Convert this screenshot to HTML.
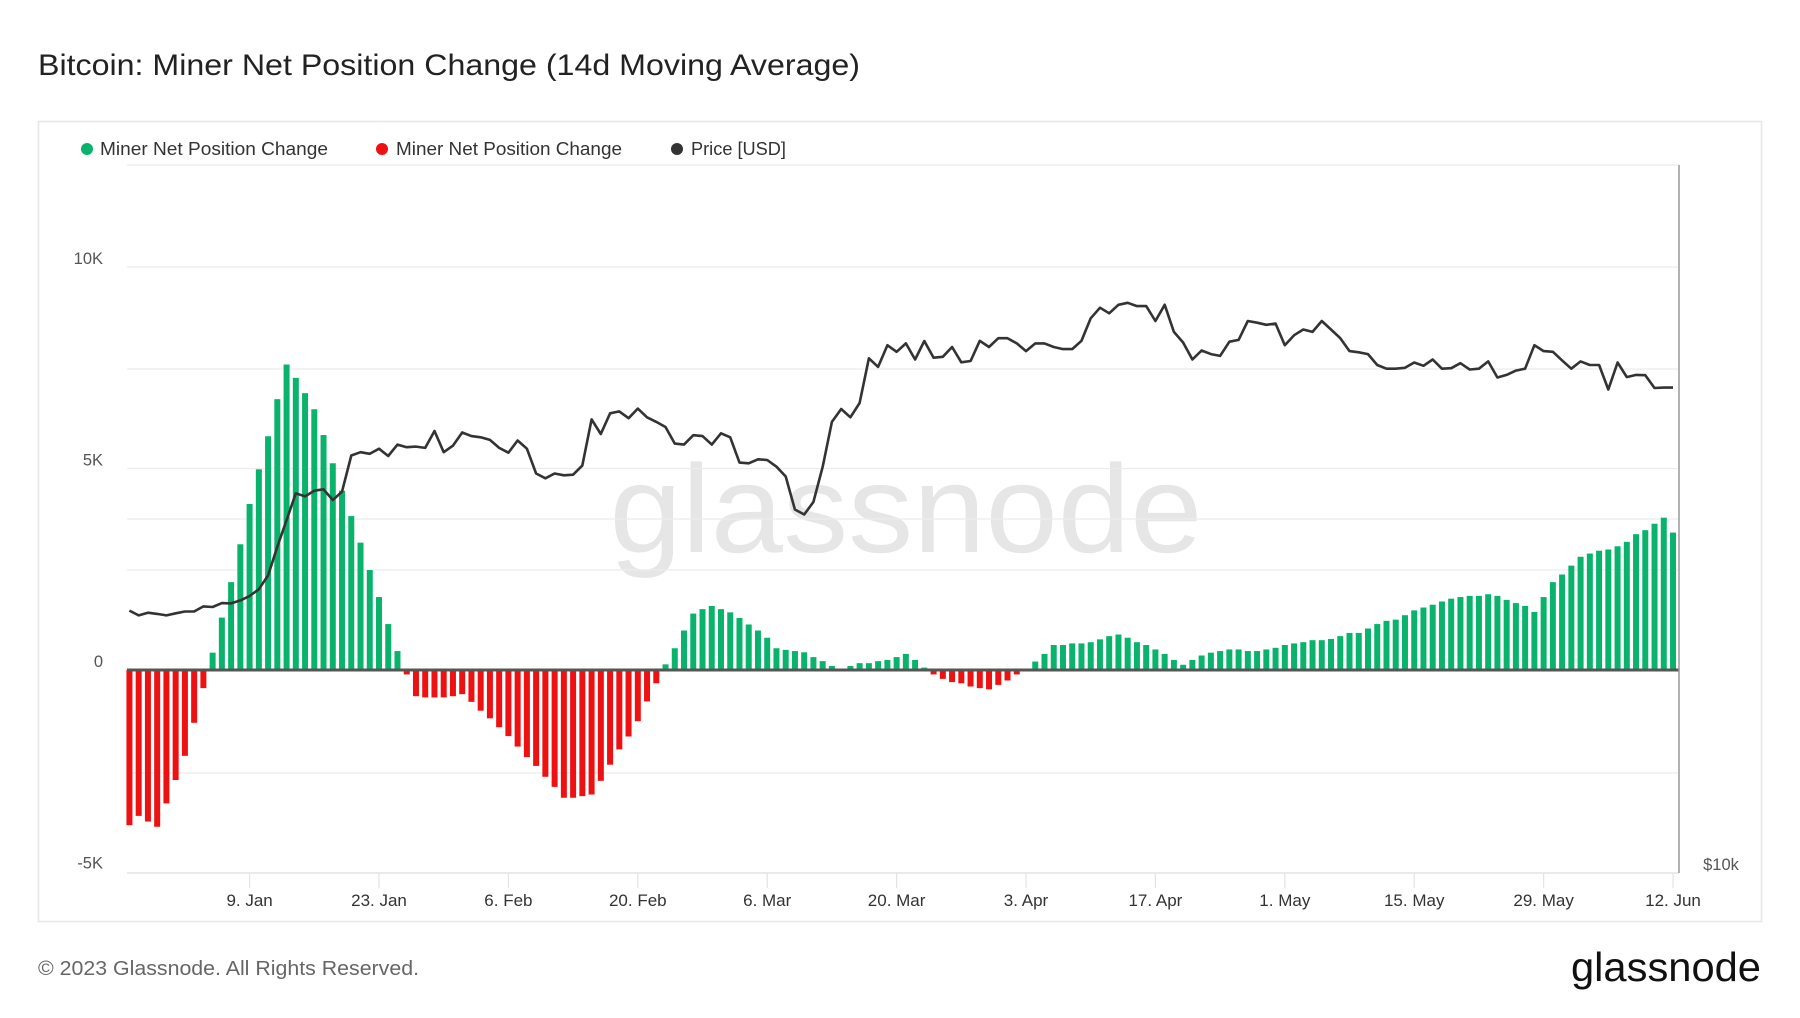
<!DOCTYPE html>
<html><head><meta charset="utf-8"><style>
html,body{margin:0;padding:0;background:#fff;}
svg text{font-family:"Liberation Sans",sans-serif;}
</style></head><body>
<svg id="chart" xmlns="http://www.w3.org/2000/svg" width="1800" height="1013" viewBox="0 0 1800 1013">
<text x="38" y="75" font-size="30" fill="#222" textLength="822" lengthAdjust="spacingAndGlyphs">Bitcoin: Miner Net Position Change (14d Moving Average)</text>
<rect x="38.5" y="121.5" width="1723" height="800" fill="#fff" stroke="#e6e6e6" stroke-width="1.5"/>
<g>
  <g><circle cx="87" cy="149" r="6" fill="#0ab36b"/><text x="100" y="155" font-size="18" fill="#333" textLength="228" lengthAdjust="spacingAndGlyphs">Miner Net Position Change</text></g>
  <g><circle cx="382" cy="149" r="6" fill="#ee1111"/><text x="396" y="155" font-size="18" fill="#333" textLength="226" lengthAdjust="spacingAndGlyphs">Miner Net Position Change</text></g>
  <g><circle cx="677" cy="149" r="6" fill="#333"/><text x="691" y="155" font-size="18" fill="#333" textLength="95" lengthAdjust="spacingAndGlyphs">Price [USD]</text></g>
</g>
<text x="906" y="552" font-size="125" fill="#e6e6e6" text-anchor="middle" textLength="593" lengthAdjust="spacingAndGlyphs">glassnode</text>
<g id="grid"></g>
<g id="bars"></g>
<g id="axes"></g>
<path id="price" fill="none" stroke="#333" stroke-width="2.6" stroke-linejoin="round"/>
<text x="38" y="975" font-size="20" fill="#666" textLength="381" lengthAdjust="spacingAndGlyphs">© 2023 Glassnode. All Rights Reserved.</text>
<text x="1761" y="981" font-size="41" fill="#111" text-anchor="end" textLength="190" lengthAdjust="spacingAndGlyphs">glassnode</text>
</svg>
<script>
const startDate = "2022-12-27";
const netChange = [
-3.85,-3.62,-3.76,-3.89,-3.31,-2.73,-2.13,-1.31,-0.45,0.43,1.30,2.18,3.12,4.12,4.98,5.80,6.72,7.58,7.25,6.87,6.47,5.83,5.13,4.45,3.82,3.16,2.48,1.81,1.14,0.47,-0.11,-0.65,-0.68,-0.68,-0.68,-0.65,
-0.60,-0.79,-1.01,-1.20,-1.42,-1.64,-1.90,-2.16,-2.38,-2.65,-2.90,-3.17,-3.17,-3.13,-3.09,-2.75,-2.35,-1.97,-1.65,-1.27,-0.78,-0.33,
0.14,0.54,0.98,1.40,1.51,1.59,1.51,1.43,1.29,1.13,0.98,0.80,0.54,
0.50,0.47,0.44,0.32,0.22,0.10,0.02,0.10,0.17,0.17,0.22,0.25,0.32,0.40,0.25,0.06,
-0.11,-0.22,-0.30,-0.33,-0.41,-0.45,-0.48,-0.37,-0.26,-0.11,-0.02,
0.21,0.40,0.62,0.62,0.66,0.66,0.69,0.76,
0.84,0.88,0.80,0.69,0.62,0.51,0.40,0.25,0.13,0.25,
0.36,0.43,0.47,0.51,0.51,0.47,0.47,0.51,0.55,0.62,
0.66,0.69,0.74,0.74,0.77,0.84,0.92,0.92,1.03,1.14,
1.22,1.25,1.36,1.48,1.55,1.62,1.70,1.77,1.81,1.84,
1.84,1.88,1.84,1.74,1.66,1.59,1.44,1.81,2.18,2.37,
2.59,2.81,2.89,2.96,2.99,3.07,3.18,3.37,3.47,3.63,
3.78,3.41];
const priceK = [
16.56,16.4,16.49,16.45,16.4,16.47,16.53,16.53,16.7,16.68,16.81,16.8,16.9,17.05,17.28,17.77,18.82,19.86,20.95,20.82,21.06,21.12,20.67,21.02,22.6,22.75,22.68,22.91,22.58,23.1,22.98,23.01,22.95,23.74,22.75,23.05,
23.67,23.5,23.44,23.32,22.95,22.73,23.29,22.91,21.8,21.59,21.8,21.72,21.75,22.15,24.3,23.6,24.6,24.69,24.36,24.83,24.4,24.18,23.93,23.15,23.1,23.54,23.5,23.1,23.63,23.44,22.28,22.25,22.43,22.4,22.1,
21.67,20.28,20.08,20.59,22.1,24.18,24.81,24.4,25.11,27.47,27.0,28.2,27.83,28.3,27.4,28.44,27.5,27.55,28.1,27.25,27.32,28.45,28.1,28.6,28.6,28.3,27.87,28.3,28.3,28.1,27.98,27.98,28.45,29.76,30.4,
30.06,30.58,30.7,30.5,30.5,29.6,30.58,28.96,28.35,27.4,27.9,27.7,27.6,28.4,28.5,29.6,29.5,29.38,29.45,28.2,28.77,29.1,28.96,29.6,29.1,28.6,27.87,27.8,27.7,27.1,26.9,26.9,
26.95,27.24,27.06,27.4,26.9,26.93,27.2,26.86,26.9,27.3,26.43,26.57,26.8,26.9,28.2,27.87,27.83,27.35,26.9,27.3,27.1,27.1,25.8,27.24,26.45,26.57,26.55,25.88,25.9,25.9];
const leftTicks = [10, 5, 0, -5];
const leftTickLabels = ["10K", "5K", "0", "-5K"];
const dateTicks = ["2023-01-09","2023-01-23","2023-02-06","2023-02-20","2023-03-06","2023-03-20","2023-04-03","2023-04-17","2023-05-01","2023-05-15","2023-05-29","2023-06-12"];
const dateTickLabels = ["9. Jan","23. Jan","6. Feb","20. Feb","6. Mar","20. Mar","3. Apr","17. Apr","1. May","15. May","29. May","12. Jun"];
const priceTicks = [10];
const priceTickLabels = ["$10k"];

const NS = "http://www.w3.org/2000/svg";
const PX_LEFT = 127, PX_RIGHT = 1679, PX_TOP = 165, PX_BOTTOM = 873;
const DAY0 = Date.parse("2023-01-09"), X0 = 249.6, DAYW = 9.243;
function xDate(d){ return X0 + (Date.parse(d) - DAY0) / 86400000 * DAYW; }
function xIndex(i){ return xDate(startDate) + i * DAYW; }
function yLeft(v){ return 670 - v * 40.3; }
function yPrice(k){ return 862 - 498.5 * Math.log(k / 10); }
function mk(tag, attrs, parent){ const e = document.createElementNS(NS, tag); for (const k in attrs) e.setAttribute(k, attrs[k]); parent.appendChild(e); return e; }

const grid = document.getElementById('grid');
const gridYs = [PX_TOP, yLeft(10), 369, yLeft(5), 519, 570, 773];
gridYs.forEach(y => {
  const l = mk('line', {x1: PX_LEFT, x2: PX_RIGHT, y1: y, y2: y, stroke: '#ececec', 'stroke-width': 1.2}, grid);
  
  
});

const bars = document.getElementById('bars');
netChange.forEach((v, i) => {
  const x = xIndex(i), y0 = yLeft(0), y1 = yLeft(v);
  const r = mk('rect', {x: x - 3, y: Math.min(y0, y1), width: 6, height: Math.max(0.5, Math.abs(y1 - y0)), fill: v >= 0 ? '#0ab36b' : '#ee1111'}, bars);
  
  
});

const axes = document.getElementById('axes');
const zl = mk('line', {x1: PX_LEFT, x2: PX_RIGHT, y1: yLeft(0), y2: yLeft(0), stroke: '#555', 'stroke-width': 3}, axes);


const bl = mk('line', {x1: PX_LEFT, x2: PX_RIGHT, y1: PX_BOTTOM, y2: PX_BOTTOM, stroke: '#e3e3e3', 'stroke-width': 1.5}, axes);


const rl = mk('line', {x1: PX_RIGHT, x2: PX_RIGHT, y1: PX_TOP, y2: PX_BOTTOM, stroke: '#999', 'stroke-width': 1.5}, axes);


leftTicks.forEach((v, i) => {
  const t = mk('text', {x: 103, y: yLeft(v) - 3, 'font-size': 16.5, fill: '#555', 'text-anchor': 'end'}, axes);
  t.textContent = leftTickLabels[i];
  
  
});
priceTicks.forEach((k, i) => {
  const t = mk('text', {x: 1721, y: yPrice(k) + 8, 'font-size': 16.5, fill: '#555', 'text-anchor': 'middle'}, axes);
  t.textContent = priceTickLabels[i];
  
  
});
dateTicks.forEach((d, i) => {
  const x = xDate(d);
  const tk = mk('line', {x1: x, x2: x, y1: PX_BOTTOM, y2: PX_BOTTOM + 15, stroke: '#e3e3e3', 'stroke-width': 1.2}, axes);
  
  
  const t = mk('text', {x: x, y: 906, 'font-size': 17, fill: '#333', 'text-anchor': 'middle'}, axes);
  t.textContent = dateTickLabels[i];
  
  
});

document.getElementById('price').setAttribute('d', priceK.map((k, i) => (i ? 'L' : 'M') + xIndex(i).toFixed(1) + ',' + yPrice(k).toFixed(1)).join(' '));
</script>
</body></html>
